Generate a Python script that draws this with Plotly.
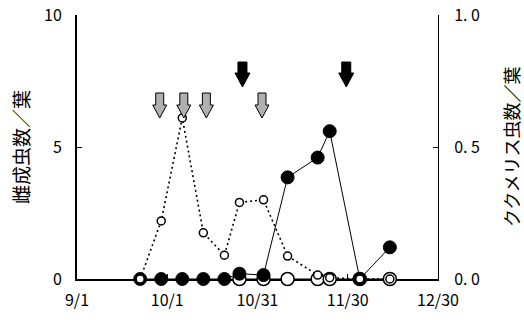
import plotly.graph_objects as go

# survey dates (year is a dummy)
dates = ["2001-09-22", "2001-09-29", "2001-10-06", "2001-10-13", "2001-10-20",
         "2001-10-25", "2001-11-02", "2001-11-10", "2001-11-20", "2001-11-24",
         "2001-12-04", "2001-12-14"]
female_adults = [0, 0, 0, 0, 0, 0.2, 0.15, 3.85, 4.6, 5.6, 0, 1.2]          # 雌成虫数/葉 (filled)
cucumeris = [0, 0.22, 0.61, 0.175, 0.09, 0.29, 0.30, 0.087, 0.015, 0.005, 0, 0]  # ククメリス虫数/葉
open_dates = ["2001-10-25", "2001-11-02", "2001-11-10", "2001-11-20", "2001-11-24",
              "2001-12-04", "2001-12-14"]
open_adults = [0, 0, 0, 0, 0, 0, 0]

gray_arrow_dates = ["2001-09-28 12:00", "2001-10-06 12:00", "2001-10-14", "2001-11-01 12:00"]
black_arrow_dates = ["2001-10-26", "2001-11-29 12:00"]

x_tickvals = ["2001-09-01", "2001-10-01", "2001-10-31", "2001-11-30", "2001-12-30"]
x_ticktext = ["9/1", "10/1", "10/31", "11/30", "12/30"]
y1_ticks = [0, 5, 10]
y1_text = ["0", "5", "10"]
y2_ticks = [0, 0.5, 1.0]
y2_text = ["0. 0", "0. 5", "1. 0"]

FONT = "Noto Sans CJK JP"

fig = go.Figure()
fig.add_trace(go.Scatter(x=open_dates, y=open_adults, mode="lines+markers",
                         line=dict(color="black", width=1),
                         marker=dict(size=13, color="white", line=dict(color="black", width=1.5)),
                         cliponaxis=False, showlegend=False, hoverinfo="skip"))
fig.add_trace(go.Scatter(x=dates, y=female_adults, mode="lines+markers",
                         line=dict(color="black", width=1),
                         marker=dict(size=13, color="black", line=dict(color="black", width=1)),
                         cliponaxis=False, showlegend=False, hoverinfo="skip"))
fig.add_trace(go.Scatter(x=dates, y=cucumeris, mode="lines+markers", yaxis="y2",
                         line=dict(color="black", width=1.6, dash="2px,3px"),
                         marker=dict(size=8, color="white", line=dict(color="black", width=1.5)),
                         cliponaxis=False, showlegend=False, hoverinfo="skip"))

shapes = []
def arrow_path(top, head, tip, sw, hw):
    return (f"M{-sw},{top} L{sw},{top} L{sw},{head} L{hw},{head} L0,{tip} "
            f"L{-hw},{head} L{-sw},{head} Z")

for d in gray_arrow_dates:
    shapes.append(dict(type="path", xref="x", yref="y", xsizemode="pixel", ysizemode="pixel",
                       xanchor=d, yanchor=0, path=arrow_path(186, 174, 161, 4, 7),
                       fillcolor="#b0b0b0", line=dict(color="black", width=1), layer="above"))
for d in black_arrow_dates:
    shapes.append(dict(type="path", xref="x", yref="y", xsizemode="pixel", ysizemode="pixel",
                       xanchor=d, yanchor=0, path=arrow_path(217, 206, 192, 4.5, 7.5),
                       fillcolor="black", line=dict(color="black", width=1), layer="above"))

fig.update_layout(
    width=524, height=322,
    margin=dict(l=77, r=86, t=15, b=43, autoexpand=False),
    paper_bgcolor="white", plot_bgcolor="white",
    font=dict(family=FONT, size=16, color="black"),
    shapes=shapes,
    xaxis=dict(type="date", range=["2001-09-01", "2001-12-30"],
               tickvals=x_tickvals, ticktext=x_ticktext, automargin=False,
               showline=True, linecolor="black", linewidth=2,
               ticks="inside", ticklen=5, tickwidth=1, tickcolor="black",
               showgrid=False, zeroline=False, layer="below traces",
               ticklabelstandoff=6, tickfont=dict(family=FONT, size=16)),
    yaxis=dict(range=[0, 10], tickvals=y1_ticks, ticktext=y1_text, automargin=False,
               showline=True, linecolor="black", linewidth=2,
               ticks="inside", ticklen=5, tickwidth=1, tickcolor="black",
               showgrid=False, zeroline=False, layer="below traces",
               ticklabelstandoff=10, tickfont=dict(family=FONT, size=16)),
    yaxis2=dict(range=[0, 1], tickvals=y2_ticks, ticktext=y2_text, automargin=False,
                overlaying="y", side="right",
                showline=True, linecolor="black", linewidth=1,
                ticks="inside", ticklen=5, tickwidth=1, tickcolor="black",
                showgrid=False, zeroline=False, layer="below traces",
                ticklabelstandoff=12, tickfont=dict(family=FONT, size=16)),
    annotations=[
        dict(text="雌成虫数／葉", xref="paper", yref="paper", x=0, y=0.5,
             xshift=-57, textangle=-90, showarrow=False,
             xanchor="center", yanchor="middle", font=dict(family=FONT, size=19)),
        dict(text="ククメリス虫数／葉", xref="paper", yref="paper", x=1, y=0.5,
             xshift=73, textangle=-90, showarrow=False,
             xanchor="center", yanchor="middle", font=dict(family=FONT, size=18)),
    ],
)

fig.write_html("out.html", config={"displayModeBar": False, "staticPlot": True},
               post_script="document.body.style.margin='0';document.body.style.overflow='hidden';")
